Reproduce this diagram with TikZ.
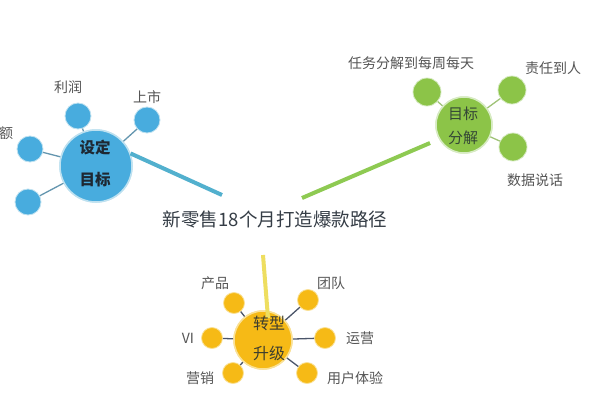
\documentclass[tikz,border=0pt]{standalone}
\usepackage{fontspec}
\setmainfont{Noto Sans CJK SC}
\definecolor{bfill}{RGB}{72,172,222}
\definecolor{bring}{RGB}{190,225,240}
\definecolor{bline}{RGB}{82,176,206}
\definecolor{bconn}{RGB}{100,150,175}
\definecolor{gfill}{RGB}{140,196,72}
\definecolor{gring}{RGB}{215,235,195}
\definecolor{gline}{RGB}{142,202,82}
\definecolor{gconn}{RGB}{160,195,120}
\definecolor{yfill}{RGB}{246,186,22}
\definecolor{yring}{RGB}{250,225,150}
\definecolor{yline}{RGB}{238,222,96}
\definecolor{yconn}{RGB}{75,85,105}
\definecolor{lbl}{RGB}{85,85,85}
\definecolor{ctext}{RGB}{30,40,50}
\tikzset{
  bmain/.style={circle,fill=bfill,draw=bring,line width=1.5pt,minimum size=72pt,inner sep=0pt},
  bsmall/.style={circle,fill=bfill,draw=bring,line width=0.8pt,minimum size=26pt,inner sep=0pt},
  gmain/.style={circle,fill=gfill,draw=gring,line width=1.5pt,minimum size=56pt,inner sep=0pt},
  gsmall/.style={circle,fill=gfill,draw=gring,line width=0.8pt,minimum size=28pt,inner sep=0pt},
  ymain/.style={circle,fill=yfill,draw=yring,line width=1.5pt,minimum size=58pt,inner sep=0pt},
  ysmall/.style={circle,fill=yfill,draw=yring,line width=0.8pt,minimum size=21pt,inner sep=0pt},
  lab/.style={text=lbl,font=\fontsize{14}{16}\selectfont,inner sep=0pt},
  intext/.style={text=ctext,font=\fontsize{15.5}{17}\selectfont\bfseries,inner sep=0pt},
  gintext/.style={text=ctext!80!gfill,font=\fontsize{15}{17}\selectfont,inner sep=0pt},
  yintext/.style={text=ctext!85!yfill,font=\fontsize{16}{18}\selectfont,inner sep=0pt},
  bconnector/.style={draw=bconn,line width=1.3pt},
  gconnector/.style={draw=gconn,line width=1.3pt},
  yconnector/.style={draw=yconn,line width=1.3pt},
}
\begin{document}
\begin{tikzpicture}[x=1pt,y=-1pt]
\useasboundingbox[fill=white] (0,0) rectangle (600,400);
% centre title
\node[text=ctext!90!white,font=\fontsize{18.5}{20}\selectfont,inner sep=0pt] (title) at (275,220) {新零售18个月打造爆款路径};
% ---- blue group
\coordinate (bend) at (222,195);
\node[bsmall] (b1) at (78,116) {};
\node[bsmall] (b2) at (147,120) {};
\node[bsmall] (b3) at (30,149) {};
\node[bsmall] (b4) at (28,202) {};
\node[bmain] (bm) at (96,166) {};
\draw[bconnector] (b1) -- (bm);
\draw[bconnector] (b2) -- (bm);
\draw[bconnector] (b3) -- (bm);
\draw[bconnector] (b4) -- (bm);
\node[bmain] at (bm) {};
\draw[draw=bline,line width=4pt] (bm.20) -- (bend);
\node[intext] (bt1) at (95,148) {设定};
\node[intext] (bt2) at (95,180) {目标};
\node[lab] (bl1) at (68,87) {利润};
\node[lab] (bl2) at (147,97) {上市};
\node[lab] (bl3) at (6,133) {额};
% ---- green group
\coordinate (gend) at (302,198);
\node[gsmall] (g1) at (427,92) {};
\node[gsmall] (g2) at (512,90) {};
\node[gsmall] (g3) at (513,147) {};
\node[gmain] (gm) at (464,125) {};
\draw[gconnector] (g1) -- (gm);
\draw[gconnector] (g2) -- (gm);
\draw[gconnector] (g3) -- (gm);
\node[gmain] at (gm) {};
\draw[draw=gline,line width=4pt] (gend) -- (430,143);
\node[gintext] (gt1) at (463,114) {目标};
\node[gintext] (gt2) at (463,138) {分解};
\node[lab] (gl1) at (411,63) {任务分解到每周每天};
\node[lab] (gl2) at (553,68) {责任到人};
\node[lab] (gl3) at (535,180) {数据说话};
% ---- yellow group
\coordinate (ytop) at (263,255);
\node[ysmall] (y1) at (234,303) {};
\node[ysmall] (y2) at (308,300) {};
\node[ysmall] (y3) at (212,338) {};
\node[ysmall] (y4) at (325,338) {};
\node[ysmall] (y5) at (233,373) {};
\node[ysmall] (y6) at (307,373) {};
\node[ymain] (ym) at (263,340) {};
\foreach \i in {1,...,6} {\draw[yconnector] (y\i) -- (ym);}
\node[ymain] at (ym) {};
\draw[draw=yline,line width=4pt] (ytop) -- (268,318);
\node[yintext] (yt1) at (269,323) {转型};
\node[yintext] (yt2) at (269,353) {升级};
\node[lab] (yl1) at (215,283) {产品};
\node[lab] (yl2) at (331,283) {团队};
\node[lab] (yl3) at (188,338) {VI};
\node[lab] (yl4) at (360,338) {运营};
\node[lab] (yl5) at (200,378) {营销};
\node[lab] (yl6) at (355,378) {用户体验};
\end{tikzpicture}
\end{document}
